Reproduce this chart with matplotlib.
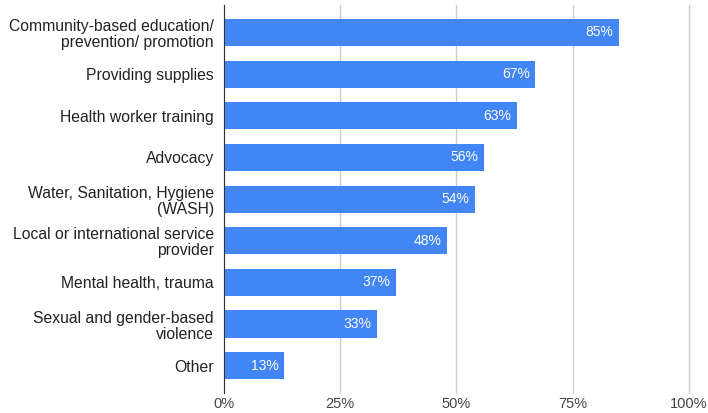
import matplotlib.pyplot as plt
from matplotlib.ticker import FuncFormatter

categories = [
    "Community-based education/\nprevention/ promotion",
    "Providing supplies",
    "Health worker training",
    "Advocacy",
    "Water, Sanitation, Hygiene\n(WASH)",
    "Local or international service\nprovider",
    "Mental health, trauma",
    "Sexual and gender-based\nviolence",
    "Other",
]
values = [85, 67, 63, 56, 54, 48, 37, 33, 13]
xticks = [0, 25, 50, 75, 100]

plt.rcParams['font.family'] = ['Liberation Sans', 'DejaVu Sans']

fig = plt.figure(figsize=(7.08, 4.13), dpi=100)
ax = fig.add_axes([0.316, 0.048, 0.657, 0.940])

y = list(range(len(categories)))
ax.barh(y, values, height=0.65, color="#4285F4", zorder=3)

for yi, v in zip(y, values):
    ax.text(v - 1.2, yi, f"{v}%", ha="right", va="center", color="white",
            fontsize=10, zorder=4)

ax.set_yticks(y)
ax.set_yticklabels(categories, fontsize=11.35, color="#222222", linespacing=1.1)
ax.set_ylim(len(categories) - 0.34, -0.66)
ax.set_xlim(0, 100)
ax.set_xticks(xticks)
ax.xaxis.set_major_formatter(FuncFormatter(lambda v, p: f"{int(v)}%"))
ax.tick_params(axis="x", labelsize=10.5, colors="#444444", length=0, pad=3)
ax.tick_params(axis="y", length=0, pad=7)
ax.grid(axis="x", color="#cccccc", linewidth=1, zorder=0)
for gl in ax.get_xgridlines():
    gl.set_clip_on(False)

for s in ["top", "right", "bottom"]:
    ax.spines[s].set_visible(False)
ax.spines["left"].set_color("#333333")
ax.spines["left"].set_zorder(5)

fig.savefig("out.png", dpi=100)
